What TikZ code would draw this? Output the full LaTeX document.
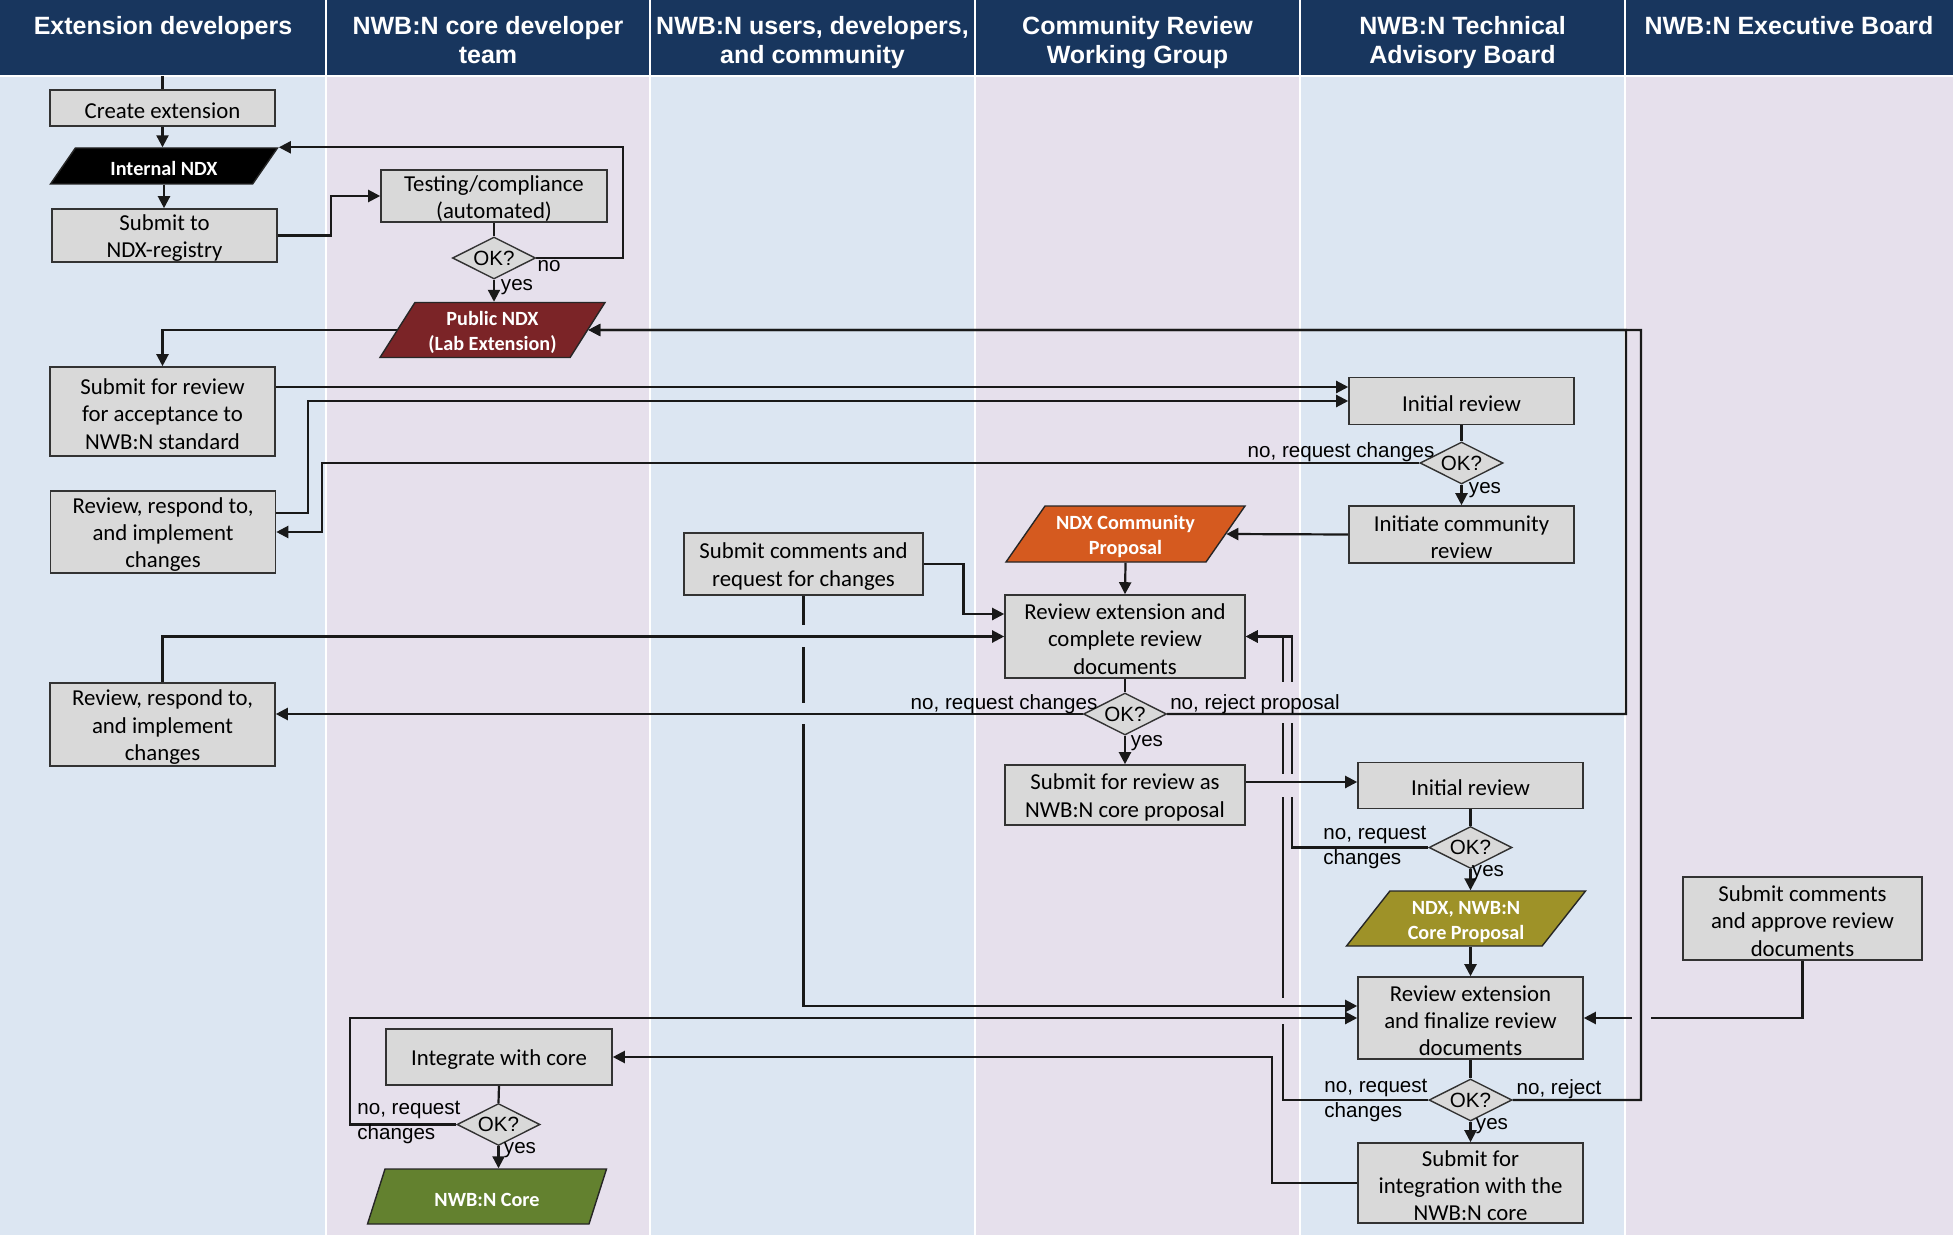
\documentclass[tikz,border=0pt]{standalone}
\usepackage{fontspec}
\setmainfont{Carlito}
\newfontfamily\arialf{Liberation Sans}
\usetikzlibrary{shapes.geometric,arrows.meta}
\definecolor{lblue}{RGB}{220,230,242}
\definecolor{llav}{RGB}{230,224,236}
\definecolor{navy}{RGB}{24,54,94}
\definecolor{boxgray}{RGB}{217,217,217}
\definecolor{pubred}{RGB}{123,36,39}
\definecolor{ndxorange}{RGB}{213,90,31}
\definecolor{olivec}{RGB}{158,146,40}
\definecolor{greenc}{RGB}{99,129,47}
\pgfdeclarelayer{lanes}
\pgfdeclarelayer{conn}
\pgfsetlayers{lanes,conn,main}
\newcommand\bxfont{\fontsize{11.4pt}{13.7pt}\selectfont}
\newcommand\pgfont{\fontsize{10.1pt}{12.5pt}\selectfont\bfseries}
\newcommand\lbfont{\arialf\fontsize{10.3pt}{12.5pt}\selectfont}
\newcommand\hdfont{\arialf\bfseries\fontsize{12.5pt}{14.5pt}\selectfont}
\newcommand\tst{\rule{0pt}{10.5pt}}
\newcommand\pst{\rule{0pt}{10pt}}
\tikzset{
  box/.style={draw=black!80, line width=0.8pt, fill=boxgray, align=center, inner sep=0pt, font=\bxfont},
  dec/.style={diamond, aspect=2, draw=black!80, line width=0.7pt, fill=boxgray, inner sep=0pt,
    font=\lbfont, minimum width=41.5pt, minimum height=21pt},
  para/.style={trapezium, trapezium stretches body, draw=black!85, line width=0.7pt, align=center,
    inner sep=0pt, text=white, font=\pgfont},
  conn/.style={line width=1.1pt, draw=black!90},
  arr/.style={conn, -{Triangle[length=6pt,width=6pt]}},
  lbl/.style={font=\lbfont, inner sep=0pt},
  lanehdr/.style={font=\hdfont, text=white, align=center, inner sep=0pt, anchor=north},
  gapfill/.style={line width=2.4pt},
}
\begin{document}
\begin{tikzpicture}[x=0.5pt,y=-0.5pt]
\useasboundingbox (0,0) rectangle (1953,1235);
\begin{pgfonlayer}{lanes}
\fill[lblue] (0,0) rectangle (326,1235);
\fill[llav] (326,0) rectangle (650,1235);
\fill[lblue] (650,0) rectangle (975,1235);
\fill[llav] (975,0) rectangle (1300,1235);
\fill[lblue] (1300,0) rectangle (1625,1235);
\fill[llav] (1625,0) rectangle (1953,1235);
\fill[navy] (0,0) rectangle (1953,76);
\foreach \x in {326,650,975,1300,1625} \draw[white,line width=1pt] (\x,0) -- (\x,1235);
\draw[white,line width=1pt] (0,76) -- (1953,76);
\end{pgfonlayer}

% headers
\node[lanehdr] (h1) at (163,16) {Extension developers};
\node[lanehdr] (h2) at (488,16) {NWB:N core developer\\team};
\node[lanehdr] (h3) at (812.5,16) {NWB:N users, developers,\\and community};
\node[lanehdr] (h4) at (1137.5,16) {Community Review\\Working Group};
\node[lanehdr] (h5) at (1462.5,16) {NWB:N Technical\\Advisory Board};
\node[lanehdr] (h6) at (1789,16) {NWB:N Executive Board};

% nodes
\coordinate (top1) at (162.5,76);
\node[box, minimum width=112.5pt, minimum height=18pt] (create) at (162.5,108) {\tst Create extension};
\node[para, fill=black, trapezium left angle=39, trapezium right angle=141,
  minimum width=113.5pt, minimum height=18pt] (intndx) at (164,166) {\pst Internal NDX};
\node[box, minimum width=112.5pt, minimum height=26.5pt] (submitreg) at (164.5,235.5) {\tst Submit to\\NDX-registry};
\node[box, minimum width=113pt, minimum height=26pt] (testing) at (494,196) {\tst Testing/compliance\\(automated)};
\node[dec] (d1) at (494,258) {OK?};
\node[para, fill=pubred, trapezium left angle=54, trapezium right angle=126,
  minimum width=112.5pt, minimum height=27.5pt] (pub) at (492.5,330) {\pst Public NDX\\(Lab Extension)};
\node[box, minimum width=112.5pt, minimum height=44.5pt] (subrev) at (162.5,411.5) {\tst Submit for review\\for acceptance to\\NWB:N standard};
\node[box, minimum width=112.5pt, minimum height=23.5pt] (init1) at (1461.5,401) {\tst Initial review};
\node[dec] (d2) at (1461.5,463) {OK?};
\node[box, minimum width=112.5pt, minimum height=28.5pt] (initcomm) at (1461.5,534.5) {\tst Initiate community\\review};
\node[box, minimum width=112.5pt, minimum height=41pt] (rr1) at (163,532) {\tst Review, respond to,\\and implement\\changes};
\node[para, fill=ndxorange, trapezium left angle=51, trapezium right angle=129,
  minimum width=119.5pt, minimum height=28pt] (ndxcomm) at (1125.5,534) {\pst NDX Community\\Proposal};
\node[box, minimum width=119.5pt, minimum height=31pt] (subcom) at (803.5,564) {\tst Submit comments and\\request for changes};
\node[box, minimum width=120pt, minimum height=41.5pt] (revcomp) at (1125,636.5) {\tst Review extension and\\complete review\\documents};
\node[box, minimum width=112.5pt, minimum height=41.5pt] (rr2) at (162.5,724.5) {\tst Review, respond to,\\and implement\\changes};
\node[dec] (d3) at (1125,714) {OK?};
\node[box, minimum width=120pt, minimum height=30pt] (subcore) at (1125,795) {\tst Submit for review as\\NWB:N core proposal};
\node[box, minimum width=112.5pt, minimum height=23pt] (init2) at (1470.5,785.5) {\tst Initial review};
\node[dec] (d4) at (1470.5,847.5) {OK?};
\node[para, fill=olivec, trapezium left angle=48, trapezium right angle=132,
  minimum width=119.5pt, minimum height=27.5pt] (ndxcore) at (1466,918.5) {\pst NDX, NWB:N\\Core Proposal};
\node[box, minimum width=112.5pt, minimum height=41pt] (revfin) at (1470.5,1018) {\tst Review extension\\and finalize review\\documents};
\node[box, minimum width=119.5pt, minimum height=41.5pt] (approve) at (1802.5,918.5) {\tst Submit comments\\and approve review\\documents};
\node[dec] (d5) at (1470.5,1100) {OK?};
\node[box, minimum width=112.5pt, minimum height=40pt] (subint) at (1470.5,1183) {\tst Submit for\\integration with the\\NWB:N core};
\node[box, minimum width=113pt, minimum height=28pt] (integ) at (499,1057) {\tst Integrate with core};
\node[dec] (d6) at (498.5,1124.5) {OK?};
\node[para, fill=greenc, trapezium left angle=49, trapezium right angle=131,
  minimum width=119.5pt, minimum height=27.5pt] (nwbcore) at (487,1196.5) {\pst NWB:N Core};

% helper coordinates
\coordinate (c387) at (0,387);
\coordinate (c513) at (0,513);
\coordinate (c614) at (0,614);
\coordinate (c782) at (0,782);
\coordinate (c1006) at (0,1006);

% connectors
\begin{pgfonlayer}{conn}
\draw[arr] (d4.west) -| (1292,636.5) -- (revcomp.east);
\draw[arr] (d5.west) -| (1283,636.5) -- (revcomp.east);
\draw[arr] (approve.south) |- (revfin.east);
\draw[gapfill, llav] (1283,682) -- (1283,723) (1292,682) -- (1292,723)
  (1283,774) -- (1283,797) (1292,774) -- (1292,797) (1283,998) -- (1283,1024);
\draw[gapfill, llav] (1632,1018) -- (1651,1018);
\draw[arr] (subcom.south) |- (revfin.west |- c1006);
\draw[gapfill, lblue] (803.5,625) -- (803.5,647) (803.5,703) -- (803.5,724);

\draw[conn] (top1) -- (create.north);
\draw[arr] (create.south) -- (create.south |- intndx.north);
\draw[arr] (intndx.south) -- (intndx.south |- submitreg.north);
\draw[arr] (submitreg.east) -- ++(53,0) |- (testing.west);
\draw[conn] (testing.south) -- (d1.north);
\draw[arr] (d1.east) -- ++(87,0) |- (intndx.top right corner);
\draw[arr] (d1.south) -- (d1.south |- pub.north);
\draw[arr] (pub.west) -| (subrev.north);
\draw[arr] (subrev.east |- c387) -- (init1.west |- c387);
\draw[arr] (rr1.east |- c513) -- (308,513) |- (init1.west);
\draw[conn] (init1.south) -- (d2.north);
\draw[arr] (d2.west) -- (322,463) |- (rr1.east);
\draw[arr] (d2.south) -- (initcomm.north);
\draw[arr] (initcomm.west) -- (ndxcomm.east);
\draw[arr] (ndxcomm.south) -- (revcomp.north);
\draw[arr] (subcom.east) -- (963.5,564) |- (revcomp.west |- c614);
\draw[arr] (rr2.north) |- (revcomp.west);
\draw[conn] (revcomp.south) -- (d3.north);
\draw[arr] (d3.west) -- (d3.west -| rr2.east);
\draw[arr] (d3.east) -| (1626,330) -- (pub.east);
\draw[arr] (d3.south) -- (subcore.north);
\draw[arr] (subcore.east |- c782) -- (init2.west |- c782);
\draw[conn] (init2.south) -- (d4.north);
\draw[arr] (d4.south) -- (d4.south |- ndxcore.north);
\draw[arr] (revfin.north |- ndxcore.south) -- (revfin.north);
\draw[arr] (d6.west) -| (350,1018) -- (revfin.west);
\draw[conn] (revfin.south) -- (d5.north);
\draw[arr] (d5.east) -| (1641,330) -- (pub.east);
\draw[arr] (d5.south) -- (subint.north);
\draw[arr] (subint.west) -| (1272,1057) -- (integ.east);
\draw[conn] (integ.south) -- (d6.north);
\draw[arr] (d6.south) -- (d6.south |- nwbcore.north);
\end{pgfonlayer}

% labels
\node[lbl] (l1) at (549,266) {no};
\node[lbl] (l2) at (517,287) {yes};
\node[lbl] (l3) at (1341,452) {no, request changes};
\node[lbl] (l4) at (1485,490) {yes};
\node[lbl] (l5) at (1004,704) {no, request changes};
\node[lbl] (l6) at (1255,704) {no, reject proposal};
\node[lbl] (l7) at (1147,743) {yes};
\node[lbl, anchor=west, align=left] (l8) at (1323,847) {no, request\\changes};
\node[lbl] (l9) at (1488,873) {yes};
\node[lbl, anchor=west, align=left] (l10) at (1324,1100) {no, request\\changes};
\node[lbl] (l11) at (1559,1089) {no, reject};
\node[lbl] (l12) at (1492,1126) {yes};
\node[lbl, anchor=west, align=left] (l13) at (357,1122) {no, request\\changes};
\node[lbl] (l14) at (520,1150) {yes};
\end{tikzpicture}
\end{document}
